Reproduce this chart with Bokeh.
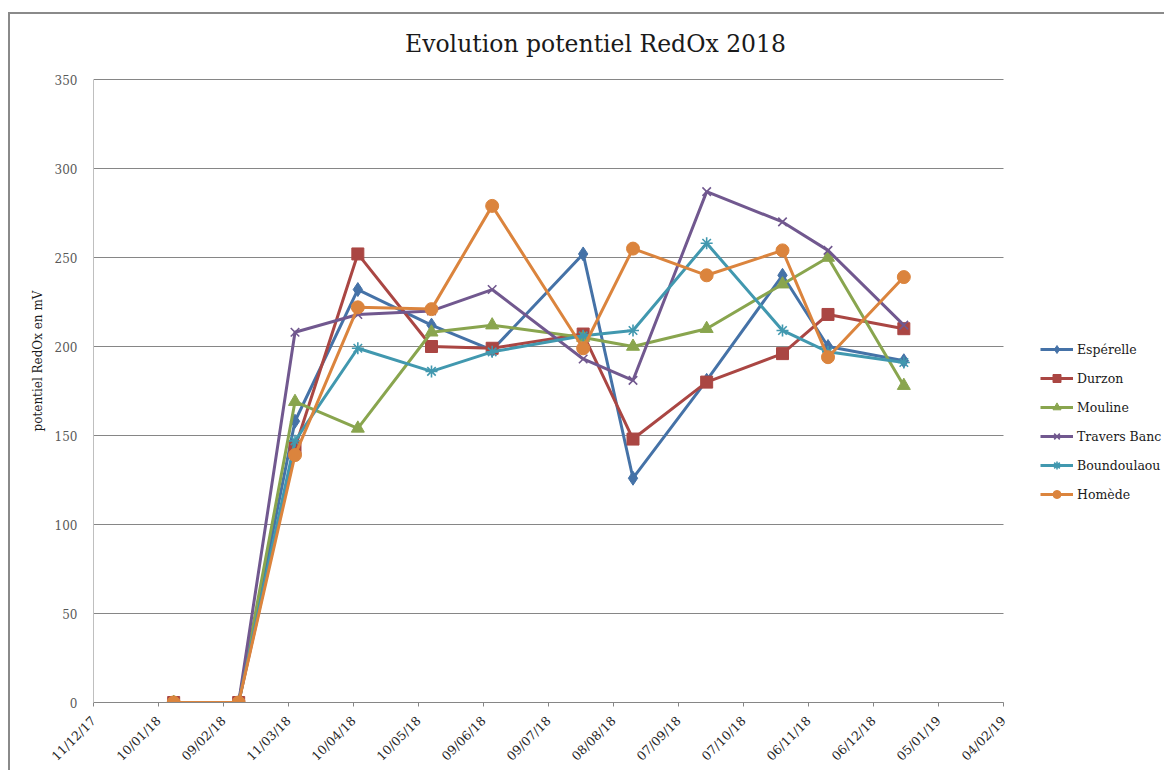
import pandas as pd
from bokeh.plotting import figure
from bokeh.models import (DatetimeTickFormatter, FixedTicker, Legend, LegendItem, Range1d, Label)
from bokeh.embed import file_html
from bokeh.resources import INLINE
from math import pi

# ---------------- data ----------------
dates = ["2018-01-17", "2018-02-16", "2018-03-14", "2018-04-12", "2018-05-16", "2018-06-13",
         "2018-07-25", "2018-08-17", "2018-09-20", "2018-10-25", "2018-11-15", "2018-12-20"]
esperelle = [0, 0, 158, 232, 212, 198, 252, 126, 181, 240, 200, 192]
durzon = [0, 0, 143, 252, 200, 199, 207, 148, 180, 196, 218, 210]
mouline = [0, 0, 169, 154, 208, 212, 205, 200, 210, 235, 250, 178]
travers_banc = [0, 0, 208, 218, 220, 232, 193, 181, 287, 270, 254, 212]
boundoulaou = [0, 0, 147, 199, 186, 197, 206, 209, 258, 209, 197, 191]
homede = [0, 0, 139, 222, 221, 279, 199, 255, 240, 254, 194, 239]

series_names = ["Espérelle", "Durzon", "Mouline", "Travers Banc", "Boundoulaou", "Homède"]
series_values = [esperelle, durzon, mouline, travers_banc, boundoulaou, homede]
colors = ["#4572A7", "#AA4643", "#89A54E", "#71588F", "#4198AF", "#DB843D"]
markers = ["diamond", "square", "triangle", "x", "asterisk", "circle"]
marker_sizes = [14, 12, 13, 12, 12, 13]

title_text = "Evolution potentiel RedOx 2018"
y_label = "potentiel RedOx en mV"
x_start = "2017-12-11"
x_end = "2019-02-04"
tick_step_days = 30
y_min, y_max = 0, 350
y_ticks = [0, 50, 100, 150, 200, 250, 300, 350]

FONT = "DejaVu Serif"

# ---------------- layout (pixels) ----------------
# The dated/valued part of the plot area is 910 x 623 px; the drawing area is
# extended to the right (legend) and to the top (title) so nothing is clipped.
FIG_W, FIG_H = 1156, 758
B_LEFT, B_TOP, B_BOTTOM, B_RIGHT = 83, 5, 70, 0
DATED_W, VALUED_H = 910, 623
FRAME_W = FIG_W - B_LEFT - B_RIGHT
FRAME_H = FIG_H - B_TOP - B_BOTTOM
TITLE_CX, TITLE_BASE = 502, 36     # title centre from plot left, baseline above plot top

x = pd.to_datetime(dates)
t0 = pd.Timestamp(x_start)
t1 = pd.Timestamp(x_end)
t0_ms = t0.timestamp() * 1000.0
t1_ms = t1.timestamp() * 1000.0
ms_per_px = (t1_ms - t0_ms) / DATED_W
val_per_px = (y_max - y_min) / VALUED_H
ticks = []
t = t0
while t <= t1:
    ticks.append(t.timestamp() * 1000.0)
    t = t + pd.Timedelta(days=tick_step_days)

p = figure(width=FIG_W, height=FIG_H, x_axis_type="datetime",
           output_backend="svg", toolbar_location=None,
           min_border_left=B_LEFT, min_border_right=B_RIGHT, min_border_top=B_TOP,
           min_border_bottom=B_BOTTOM,
           styles={"border-top": "2px solid #8a8a8a", "border-left": "2px solid #8a8a8a",
                   "margin-top": "12px", "margin-left": "8px"})
p.x_range = Range1d(t0_ms, t0_ms + FRAME_W * ms_per_px)
p.y_range = Range1d(y_min, y_min + FRAME_H * val_per_px)

p.outline_line_color = None
p.xgrid.grid_line_color = None
p.ygrid.grid_line_color = None

# horizontal gridlines over the dated span only
p.segment(x0=[t0_ms] * len(y_ticks), x1=[t1_ms] * len(y_ticks), y0=y_ticks, y1=y_ticks,
          line_color="#868686", line_width=1)

# title
p.add_layout(Label(x=t0_ms + TITLE_CX * ms_per_px, y=y_max + TITLE_BASE * val_per_px,
                   text=title_text, text_font=FONT, text_font_size="23.5px",
                   text_color="#1a1a1a", text_align="center", text_baseline="alphabetic"))

# x axis
p.xaxis.bounds = (t0_ms, t1_ms)
p.xaxis.ticker = FixedTicker(ticks=ticks)
fmt = "%d/%m/%y"
p.xaxis.formatter = DatetimeTickFormatter(milliseconds=fmt, seconds=fmt, minsec=fmt, minutes=fmt,
                                          hourmin=fmt, hours=fmt, days=fmt, months=fmt, years=fmt)
p.xaxis.major_label_orientation = pi / 4
p.xaxis.major_label_text_font = FONT
p.xaxis.major_label_text_font_size = "12.5px"
p.xaxis.major_label_text_color = "#262626"
p.xaxis.major_label_standoff = 12
p.xaxis.axis_line_color = "#868686"
p.xaxis.major_tick_line_color = "#868686"
p.xaxis.major_tick_out = 4
p.xaxis.major_tick_in = 0
p.xaxis.minor_tick_line_color = None
p.xaxis.minor_tick_out = 0

# y axis
p.yaxis.bounds = (y_min, y_max)
p.yaxis.ticker = FixedTicker(ticks=y_ticks)
p.yaxis.axis_label = y_label
p.yaxis.axis_label_text_font = FONT
p.yaxis.axis_label_text_font_size = "12px"
p.yaxis.axis_label_text_font_style = "normal"
p.yaxis.axis_label_text_color = "#1a1a1a"
p.yaxis.axis_label_standoff = 7
p.yaxis.major_label_text_font = FONT
p.yaxis.major_label_text_font_size = "12px"
p.yaxis.major_label_text_color = "#595959"
p.yaxis.major_label_standoff = 16
p.yaxis.axis_line_color = "#bfbfbf"
p.yaxis.major_tick_line_color = None
p.yaxis.major_tick_out = 0
p.yaxis.major_tick_in = 0
p.yaxis.minor_tick_line_color = None
p.yaxis.minor_tick_out = 0

items = []
for name, vals, col, mk, ms in zip(series_names, series_values, colors, markers, marker_sizes):
    r_line = p.line(x, vals, line_color=col, line_width=3)
    lw = 1.6 if mk in ("x", "asterisk") else 1
    r_pts = p.scatter(x, vals, marker=mk, size=ms, fill_color=col, line_color=col, line_width=lw)
    items.append(LegendItem(label=name, renderers=[r_line, r_pts]))

legend = Legend(items=items, location=(DATED_W + 37, 198), orientation="vertical")
legend.label_text_font = FONT
legend.label_text_font_size = "12.5px"
legend.label_text_color = "#1a1a1a"
legend.glyph_width = 33
legend.glyph_height = 20
legend.label_height = 20
legend.spacing = 9
legend.label_standoff = 4
legend.padding = 0
legend.margin = 0
legend.border_line_color = None
legend.background_fill_alpha = 0
p.add_layout(legend, "center")

open("out.html", "w").write(file_html(p, INLINE))
